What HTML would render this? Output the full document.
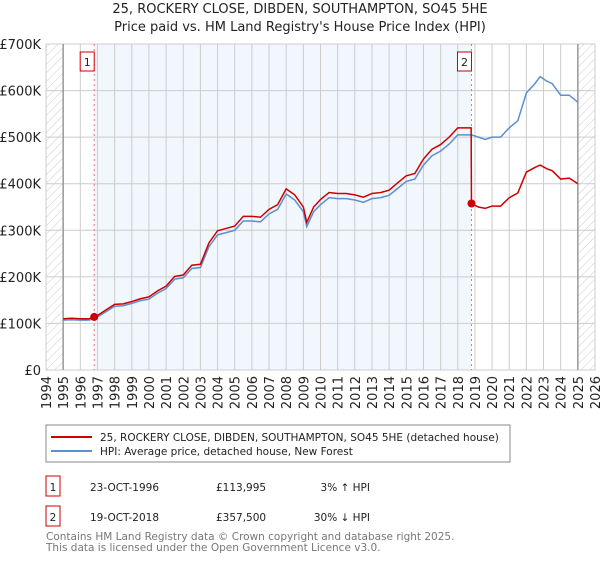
<!DOCTYPE html>
<html><head><meta charset="utf-8"><style>
body{margin:0;background:#fff;width:600px;height:560px;overflow:hidden;font-family:"DejaVu Sans","Liberation Sans",sans-serif}
svg text{font-family:"DejaVu Sans","Liberation Sans",sans-serif}
</style></head><body>
<svg id="c" width="600" height="560">
<defs><pattern id="h" width="6" height="6" patternUnits="userSpaceOnUse" patternTransform="rotate(45)"><line x1="0" y1="0" x2="0" y2="6" stroke="#ccc" stroke-width="1"/></pattern></defs>
<text x="300" y="13" text-anchor="middle" font-size="13" fill="#222">25, ROCKERY CLOSE, DIBDEN, SOUTHAMPTON, SO45 5HE</text>
<text x="300" y="31" text-anchor="middle" font-size="13" fill="#222">Price paid vs. HM Land Registry's House Price Index (HPI)</text>
<g id="plot"></g>
<rect x="46" y="425" width="464" height="37" fill="#fff" stroke="#888"/>
<line x1="51" y1="437" x2="92" y2="437" stroke="#cc0000" stroke-width="2"/>
<text x="100" y="441" font-size="10.5" fill="#222">25, ROCKERY CLOSE, DIBDEN, SOUTHAMPTON, SO45 5HE (detached house)</text>
<line x1="51" y1="451" x2="92" y2="451" stroke="#5b8fd0" stroke-width="2"/>
<text x="100" y="455" font-size="10.5" fill="#222">HPI: Average price, detached house, New Forest</text>
<rect x="46" y="476" width="14" height="20" fill="#fff" stroke="#cc0000"/>
<text x="53" y="491" font-size="10.5" text-anchor="middle" fill="#222">1</text>
<text x="90" y="491" font-size="10.5" fill="#222">23-OCT-1996</text>
<text x="216" y="491" font-size="10.5" fill="#222">£113,995</text>
<text x="370" y="491" font-size="10.5" fill="#222" text-anchor="end">3% ↑ HPI</text>
<rect x="46" y="506" width="14" height="20" fill="#fff" stroke="#cc0000"/>
<text x="53" y="521" font-size="10.5" text-anchor="middle" fill="#222">2</text>
<text x="90" y="521" font-size="10.5" fill="#222">19-OCT-2018</text>
<text x="216" y="521" font-size="10.5" fill="#222">£357,500</text>
<text x="370" y="521" font-size="10.5" fill="#222" text-anchor="end">30% ↓ HPI</text>
<text x="46" y="540" font-size="10.5" fill="#777">Contains HM Land Registry data © Crown copyright and database right 2025.</text>
<text x="46" y="551" font-size="10.5" fill="#777">This data is licensed under the Open Government Licence v3.0.</text>
</svg>
<script>
const hpiYears=[1995,1995.5,1996,1996.5,1996.8,1997,1997.5,1998,1998.5,1999,1999.5,2000,2000.5,2001,2001.5,2002,2002.5,2003,2003.5,2004,2004.5,2005,2005.5,2006,2006.5,2007,2007.5,2008,2008.5,2009,2009.2,2009.6,2010,2010.5,2011,2011.5,2012,2012.5,2013,2013.5,2014,2014.5,2015,2015.5,2016,2016.5,2017,2017.5,2018,2018.5,2018.8,2019.2,2019.6,2020,2020.5,2021,2021.5,2022,2022.5,2022.8,2023.2,2023.5,2024,2024.5,2025];
const hpiValues=[107,108,107,107,110,114,125,137,138,143,149,152,165,175,195,198,218,220,265,290,295,300,320,320,318,335,345,378,365,340,308,340,355,370,368,368,365,360,368,370,375,390,405,410,440,460,470,485,505,505,505,500,495,500,500,520,535,595,615,630,620,615,590,590,575];
const priceYears=[1995,1995.5,1996,1996.5,1996.8,1997,1997.5,1998,1998.5,1999,1999.5,2000,2000.5,2001,2001.5,2002,2002.5,2003,2003.5,2004,2004.5,2005,2005.5,2006,2006.5,2007,2007.5,2008,2008.5,2009,2009.2,2009.6,2010,2010.5,2011,2011.5,2012,2012.5,2013,2013.5,2014,2014.5,2015,2015.5,2016,2016.5,2017,2017.5,2018,2018.5,2018.78,2018.8,2019.2,2019.6,2020,2020.5,2021,2021.5,2022,2022.5,2022.8,2023.2,2023.5,2024,2024.5,2025];
const priceValues=[110,111,110,110,114,117,129,141,142,147,153,157,170,180,201,204,225,227,273,299,304,309,330,330,328,345,355,389,376,350,317,350,366,381,379,379,376,371,379,381,386,402,417,422,453,474,484,500,520,520,520,357.5,350,347,352,352,370,380,425,435,440,432,428,410,412,400];
const sales=[{t:1996.81,v:113.995,label:"1"},{t:2018.8,v:357.5,label:"2"}];
const yTicks=[0,100,200,300,400,500,600,700];
const xTicks=[1994,1995,1996,1997,1998,1999,2000,2001,2002,2003,2004,2005,2006,2007,2008,2009,2010,2011,2012,2013,2014,2015,2016,2017,2018,2019,2020,2021,2022,2023,2024,2025,2026];
const L=46,R=595,T=44,B=370,x0=1994,x1=2026,yMax=700;
const X=t=>L+(t-x0)/(x1-x0)*(R-L);
const Y=v=>B-v/yMax*(B-T);
const g=document.getElementById('plot');const NS='http://www.w3.org/2000/svg';
function mk(tag,a,p){const e=document.createElementNS(NS,tag);for(const k in a)e.setAttribute(k,a[k]);(p||g).appendChild(e);return e;}
let e;
e=mk('rect',{x:X(sales[0].t),y:T,width:X(sales[1].t)-X(sales[0].t),height:B-T,fill:'#f2f6fd'});


e=mk('rect',{x:L,y:T,width:X(1995)-L,height:B-T,fill:'url(#h)'});


e=mk('rect',{x:X(2025),y:T,width:R-X(2025),height:B-T,fill:'url(#h)'});


yTicks.forEach(v=>{
 e=mk('line',{x1:L,x2:R,y1:Y(v),y2:Y(v),stroke:'#ccc'});
 
 
 e=mk('text',{x:L-5,y:Y(v)+5,'text-anchor':'end','font-size':13,fill:'#222'});
 e.textContent=v===0?'£0':'£'+v+'K';
 
 
});
xTicks.forEach(t=>{
 e=mk('line',{x1:X(t),x2:X(t),y1:T,y2:B,stroke:'#ccc'});
 
 
 e=mk('text',{transform:`translate(${X(t)+5},${B+6}) rotate(-90)`,'text-anchor':'end','font-size':13,fill:'#222'});
 e.textContent=t;
 
 
});
e=mk('rect',{x:L,y:T,width:R-L,height:B-T,fill:'none',stroke:'#ccc'});


[1995,2025].forEach(t=>{e=mk('line',{x1:X(t),x2:X(t),y1:T,y2:B,stroke:'#999','stroke-width':1.5});
 
 });
sales.forEach(s=>{
 e=mk('line',{x1:X(s.t),x2:X(s.t),y1:T,y2:B,stroke:'#f07070','stroke-dasharray':'2,3'});
 
 
});
e=mk('polyline',{points:hpiYears.map((t,i)=>X(t)+','+Y(hpiValues[i])).join(' '),fill:'none',stroke:'#5b8fd0','stroke-width':1.5});


e=mk('polyline',{points:priceYears.map((t,i)=>X(t)+','+Y(priceValues[i])).join(' '),fill:'none',stroke:'#cc0000','stroke-width':1.5});


sales.forEach(s=>{
 e=mk('circle',{cx:X(s.t),cy:Y(s.v),r:4,fill:'#cc0000'});
 
 
 e=mk('rect',{x:X(s.t)-14,y:52,width:14,height:19,fill:'#fff',stroke:'#cc0000'});
 
 
 e=mk('text',{x:X(s.t)-7,y:66,'text-anchor':'middle','font-size':11,fill:'#222'});
 e.textContent=s.label;
});
</script>
</body></html>
